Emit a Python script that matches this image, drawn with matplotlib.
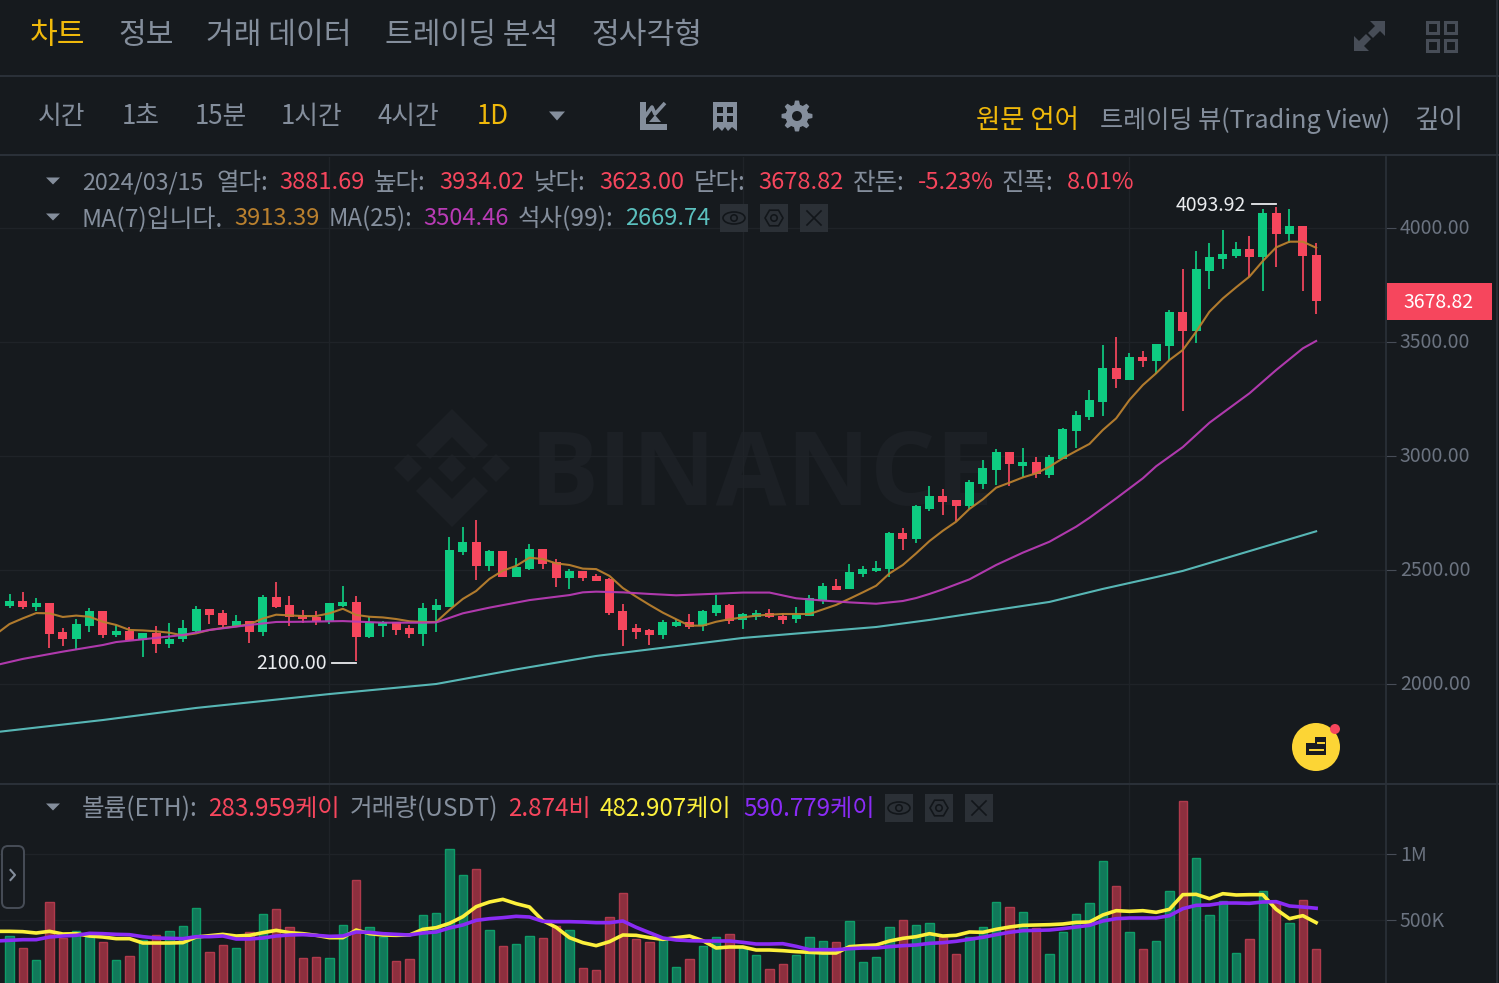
import matplotlib
matplotlib.use("Agg")
import matplotlib.pyplot as plt
from matplotlib.patches import Polygon, Rectangle, Circle, FancyBboxPatch, Ellipse
from matplotlib.transforms import ScaledTranslation
import numpy as np

plt.rcParams['font.family'] = ['Noto Sans CJK KR', 'DejaVu Sans']

# ---------- data ----------
opens = [2344,2363,2336,2357,2230,2199,2256,2320,2215,2234,2193,2224,2174,2199,2234,2330,2311,2256,2275,2227,
         2382,2348,2301,2295,2276,2342,2360,2206,2256,2270,2246,2218,2326,2339,2580,2621,2519,2582,2468,2504,
         2591,2534,2466,2496,2475,2461,2319,2246,2238,2216,2256,2270,2256,2313,2345,2281,2295,2311,2300,2287,
         2298,2366,2428,2415,2482,2494,2503,2664,2636,2769,2826,2805,2782,2877,2940,3017,2958,2974,2918,2988,
         3108,3171,3238,3386,3335,3436,3415,3484,3632,3550,3813,3864,3879,3908,3873,4067,3975,4009,3881.69]
highs = [2393,2404,2377,2357,2244,2284,2332,2320,2259,2249,2224,2253,2266,2279,2342,2330,2325,2304,2275,2392,
         2446,2385,2323,2320,2355,2430,2385,2292,2275,2270,2257,2357,2371,2643,2687,2718,2588,2582,2553,2614,
         2591,2550,2503,2496,2481,2463,2351,2263,2243,2281,2284,2307,2323,2390,2349,2310,2323,2329,2310,2336,
         2392,2443,2462,2525,2516,2538,2665,2684,2784,2867,2857,2805,2893,2982,3032,3017,3035,2994,3006,3121,
         3196,3288,3487,3520,3450,3459,3491,3640,3820,3899,3933,3991,3940,3963,4083,4093.92,4082,4009,3934.02]
lows = [2335,2327,2320,2156,2167,2149,2230,2200,2208,2190,2117,2137,2156,2183,2230,2265,2251,2256,2178,2211,
        2335,2256,2269,2259,2265,2339,2100,2202,2206,2215,2203,2167,2227,2339,2566,2458,2497,2468,2468,2500,
        2506,2427,2415,2453,2452,2304,2168,2196,2173,2196,2252,2240,2234,2297,2265,2240,2282,2291,2265,2269,
        2297,2352,2411,2415,2471,2493,2471,2589,2617,2759,2740,2716,2768,2855,2873,2867,2909,2905,2905,2987,
        3035,3159,3175,3300,3335,3389,3358,3418,3199,3497,3734,3819,3868,3787,3722,3827,3933,3722,3623.00]
closes = [2364,2336,2357,2221,2199,2263,2320,2216,2234,2193,2224,2174,2197,2244,2329,2304,2257,2275,2227,2382,
          2338,2295,2287,2276,2355,2360,2206,2270,2270,2237,2218,2335,2347,2588,2621,2519,2582,2468,2515,2591,
          2526,2466,2496,2466,2453,2310,2238,2230,2216,2272,2273,2252,2322,2345,2278,2307,2311,2292,2282,2304,
          2376,2428,2412,2490,2503,2510,2664,2636,2779,2826,2797,2782,2884,2947,3017,2963,2974,2920,2996,3117,
          3178,3246,3386,3336,3436,3417,3491,3632,3550,3820,3871,3886,3908,3873,4067,3975,4007,3877,3678.82]

ma7 = [2219,2263,2288,2311,2310,2294,2300,2295,2273,2259,2237,2235,2231,2225,2213,2222,2237,2246,2253,2262,2287,
       2304,2301,2298,2298,2310,2330,2303,2295,2292,2285,2275,2272,2272,2325,2373,2408,2461,2497,2518,2554,2548,
       2529,2522,2506,2504,2474,2421,2383,2347,2313,2284,2256,2256,2273,2284,2292,2300,2304,2307,2307,2307,2327,
       2347,2374,2402,2431,2485,2522,2573,2627,2672,2712,2768,2810,2861,2883,2906,2924,2953,2990,3022,3053,3114,
       3165,3246,3311,3363,3421,3465,3545,3633,3691,3740,3787,3855,3915,3940,3940,3913.39]
ma25_idx = [-1,1,4,7,8,10,13,15,18,20,22,25,28,31,32,34,36,39,42,43,44,46,48,50,53,55,57,59,61,63,65,67,68,69,70,72,
            74,76,78,80,81,83,85,86,88,90,93,95,97,98]
ma25 = [2083,2110,2142,2171,2184,2196,2215,2237,2259,2272,2273,2276,2269,2269,2270,2310,2335,2368,2390,2402,2405,
        2402,2395,2389,2396,2401,2401,2376,2366,2358,2352,2364,2377,2395,2415,2459,2522,2576,2624,2690,2729,2814,
        2902,2955,3039,3146,3275,3377,3472,3504.46]
ma99_idx = [-1,7,14,24,32,38,44,55,65,69,78,82,86,88,98]
ma99 = [1789,1842,1895,1956,2000,2064,2123,2202,2250,2281,2360,2417,2469,2496,2669.74]

volumes = [382.5,290,202.5,640,365,420,377.5,335,202.5,230,352.5,387.5,417.5,455,592.5,260,312.5,290,410,545,
           582.5,452.5,215,225,220,462.5,800,452.5,377.5,197.5,210,540,552.5,1037.5,837.5,887.5,425,310,320,385,
           370,460,427.5,140,125,527.5,702.5,362.5,335,357.5,147.5,212.5,310,375,400,302.5,240,135,175,237.5,
           372.5,345,340,495,187.5,222.5,450,502.5,465,482.5,377.5,245,377.5,447.5,635,597.5,565,440,247.5,412.5,
           547.5,627.5,947.5,760,412.5,287.5,342.5,717.5,1392.5,967.5,542.5,647.5,257.5,357.5,722.5,640,482.5,650,283.959]
vol_ma_a = [417.5,417.5,415,405,417.5,397.5,400,382.5,375,362.5,362.5,330,330,330,332.5,375,385,395,382.5,387.5,407.5,
            425,407.5,400,387.5,370,370,427.5,400,390,387.5,390,432.5,445,477.5,527.5,602.5,637.5,657.5,625,600,
            497.5,447.5,370,332.5,310,340,390,387.5,370,357.5,370,382.5,347.5,292.5,300,300,277.5,277.5,272.5,265,
            260,255,255,302.5,310,315,345,365,377.5,400,382.5,387.5,412.5,410,432.5,450,462.5,465,467.5,472.5,485,
            487.5,540,572.5,567.5,572.5,560,582.5,692.5,695,662.5,700,690,692.5,692.5,582.5,512.5,535,482.907]
vol_ma_b = [345,350,355,355,375,382.5,387.5,402.5,400,395,392.5,377.5,367.5,365,362.5,377.5,377.5,382.5,360,360,367.5,
            382.5,390,392.5,387.5,380,382.5,412.5,410,400,395,390,405,412.5,442.5,465,500,512.5,520,530,525,
            492.5,490,490,487.5,482.5,482.5,495,447.5,407.5,367.5,352.5,347.5,345,345,345,335,322.5,322.5,325,305,
            280,280,280,287.5,292.5,292.5,302.5,310,315,327.5,332.5,342.5,357.5,372.5,392.5,410,422.5,425,427.5,437.5,
            450,462.5,495,512.5,517.5,517.5,517.5,535,587.5,612.5,615,630,630,627.5,637.5,640,607.5,600,590.779]

month_idx = [24, 55, 84]
price_ticks = [2000, 2500, 3000, 3500, 4000]
vol_ticks = [500, 1000]
vol_tick_labels = ['500K', '1M']

# ---------- style ----------
W, H = 1499, 983
BG = '#161A1E'; GRID = '#1F2328'; LINE = '#2B3139'; GRAY = '#848E9C'; DIM = '#474D57'; TICK = '#6B7380'
RED = '#F6465D'; GREEN = '#0ECB81'; YEL = '#F0B90B'
ORG = '#B9802E'; PUR = '#B83BB5'; TEAL = '#5BC0BE'; VY = '#FCF03C'; VP = '#8A2BF5'
STEP = 13.333; X0 = 9.5

fig = plt.figure(figsize=(W/100, H/100), dpi=100, facecolor=BG)

def px_axes(l, t, r, b, **kw):
    return fig.add_axes([l/W, 1-b/H, (r-l)/W, (b-t)/H], **kw)

# background (watermark)
bg = fig.add_axes([0, 0, 1, 1], zorder=0)
bg.set_xlim(0, W); bg.set_ylim(H, 0); bg.axis('off')
WM = '#1C2025'
cx, cy = 452, 468
top = [(0,-59),(36,-23),(22,-9),(0,-31),(-22,-9),(-36,-23)]
bg.add_patch(Polygon([(cx+a, cy+b) for a, b in top], fc=WM, ec='none'))
bg.add_patch(Polygon([(cx+a, cy-b) for a, b in top], fc=WM, ec='none'))
for dx in (-44, 0, 44):
    bg.add_patch(Polygon([(cx+dx-14, cy), (cx+dx, cy-14), (cx+dx+14, cy), (cx+dx, cy+14)], fc=WM, ec='none'))
bg.text(530, 479, 'BINANCE', color=WM, fontsize=74, fontweight='bold', family='Open Sans', va='center', ha='left')

def style_axis(a, labels_up=2):
    a.yaxis.tick_right()
    a.set_xticks(month_idx); a.set_xticklabels([])
    a.tick_params(axis='x', length=0)
    a.tick_params(axis='y', length=7, color=DIM, labelcolor=TICK, labelsize=14, pad=3)
    a.grid(True, color=GRID, lw=1, zorder=0)
    for s in ('top', 'left', 'bottom'):
        a.spines[s].set_visible(False)
    a.spines['right'].set_color(LINE); a.spines['right'].set_linewidth(1.2)
    off = ScaledTranslation(0, labels_up/100, fig.dpi_scale_trans)
    for lb in a.get_yticklabels():
        lb.set_transform(lb.get_transform() + off)

# main price axes
ax = px_axes(0, 157, 1386, 783, zorder=1)
ax.set_facecolor('none')
ax.set_xlim(-X0/STEP, (1386-X0)/STEP)
ax.set_ylim(2000-99*500/114, 2000+527*500/114)
x = np.arange(len(opens))
o, h, l, c = map(np.array, (opens, highs, lows, closes))
up = c >= o
cols = np.where(up, GREEN, RED)
ax.vlines(x, l, h, colors=cols, lw=1.25, zorder=3)
ax.bar(x, np.abs(c-o), bottom=np.minimum(o, c), width=0.68, color=cols, zorder=3, lw=0)
ax.plot(np.arange(-1, len(ma7)-1), ma7, color=ORG, lw=1.5, zorder=4, alpha=.95)
ax.plot(ma25_idx, ma25, color=PUR, lw=1.5, zorder=4, alpha=.95)
ax.plot(ma99_idx, ma99, color=TEAL, lw=1.5, zorder=4, alpha=.95)
ax.set_yticks(price_ticks)
ax.set_yticklabels([f'{v:.2f}' for v in price_ticks])
style_axis(ax)

# volume axes
av = px_axes(0, 784, 1386, H, zorder=1)
av.set_facecolor('none')
av.set_xlim(ax.get_xlim())
av.set_ylim((987-983)*7.5, (987-784)*7.5)
v = np.array(volumes)
fc = np.where(up, '#11795A', '#8D2F3E')
ec = np.where(up, '#0E9C68', '#B03A4C')
av.bar(x, v, width=0.62, color=fc, edgecolor=ec, lw=1.0, zorder=3)
xv = np.arange(-1, len(vol_ma_a)-1)
av.plot(xv, vol_ma_a, color=VY, lw=2.6, zorder=4)
av.plot(xv, vol_ma_b, color=VP, lw=2.6, zorder=5)
av.set_yticks(vol_ticks); av.set_yticklabels(vol_tick_labels)
style_axis(av, 1)

# overlay for interface furniture
ov = fig.add_axes([0, 0, 1, 1], zorder=2)
ov.set_xlim(0, W); ov.set_ylim(H, 0); ov.axis('off'); ov.patch.set_alpha(0)

def t(px, py, s, color=GRAY, size=17.6, **kw):
    ov.text(px, py+1.8, s, color=color, fontsize=size, va='center', ha=kw.pop('ha', 'left'), **kw)

def num(px, py, s, color, size=17.0):
    t(px, py, s, color, size, fontweight='medium')

def tri(px, py, w=7, hh=7, color='#848E9C'):
    ov.add_patch(Polygon([(px-w, py-hh/2), (px+w, py-hh/2), (px, py+hh/2)], fc=color, ec='none'))

for yy, xx2 in ((76, 1499), (155, 1499), (783.5, 1499)):
    ov.plot([0, xx2], [yy, yy], color=LINE, lw=1.4)
ov.plot([1497.5, 1497.5], [0, H], color=LINE, lw=1.2)

# header tabs
for xp, s, col in [(30, '차트', YEL), (118, '정보', GRAY), (206, '거래 데이터', GRAY), (385, '트레이딩 분석', GRAY), (591, '정사각형', GRAY)]:
    t(xp, 34, s, col, 21.7)
# interval row
for xp, s, col in [(38, '시간', GRAY), (122, '1초', GRAY), (195, '15분', GRAY), (281, '1시간', GRAY), (378, '4시간', GRAY), (477, '1D', YEL)]:
    t(xp, 115, s, col, 18.6)
tri(557, 116, 8, 9)
t(976, 119, '원문 언어', YEL, 19)
t(1100, 119, '트레이딩 뷰(Trading View)', GRAY, 18.1)
t(1414, 119, '깊이', GRAY, 19.2)

# chart-type icon
ic = '#848E9C'
ov.add_patch(Polygon([(640,102),(646,102),(646,124),(667,124),(667,130),(640,130)], fc=ic, ec='none'))
ov.plot([644,652,655,665], [118,107,114,103], color=ic, lw=2.6, solid_capstyle='butt')
ov.add_patch(Polygon([(649,122),(655,115),(661,122)], fc=ic, ec='none'))
# book icon
ov.add_patch(Polygon([(713,102),(737,102),(737,131),(732,127),(728,131),(725,127),(722,131),(718,127),(713,131)], fc=ic, ec='none'))
for ax_, ay in ((717,107),(727,107),(717,116),(727,116)):
    ov.add_patch(Rectangle((ax_, ay), 6, 6, fc=BG, ec='none'))
# gear
gx, gy = 797, 116
ang = np.radians(np.arange(0, 360, 7.5))
rad = np.where(((np.degrees(ang) + 11.25) % 45) < 22.5, 15.5, 11.5)
ov.add_patch(Polygon(np.c_[gx + rad*np.cos(ang), gy + rad*np.sin(ang)], fc=ic, ec='none'))
ov.add_patch(Circle((gx, gy), 5, fc=BG, ec='none'))

# top-right icons
ov.add_patch(Polygon([(1370,21),(1385,21),(1385,36),(1380,31),(1373,38),(1368,33),(1375,26)], fc=DIM, ec='none'))
ov.add_patch(Polygon([(1354,51),(1354,36),(1359,41),(1366,34),(1371,39),(1364,46),(1369,51)], fc=DIM, ec='none'))
for a in (1426, 1444):
    for b in (21, 39):
        ov.add_patch(Rectangle((a+1.2, b+1.2), 10.5, 10.5, fc='none', ec=DIM, lw=2.2))

# legend rows
tri(53, 181); tri(53, 217); tri(53, 807)
t(82, 181, '2024/03/15', GRAY, 16.8)
for xp, s in [(216, '열다:'), (374, '높다:'), (534, '낮다:'), (694, '닫다:'), (853, '잔돈:'), (1002, '진폭:')]:
    t(xp, 181, s)
for xp, s in [(279, '3881.69'), (439, '3934.02'), (599, '3623.00'), (758, '3678.82'), (918, '-5.23%'), (1067, '8.01%')]:
    num(xp, 181, s, RED)
t(82, 217, 'MA(7)입니다.', GRAY, 17.9)
t(329, 217, 'MA(25):', GRAY, 17.3)
t(518, 217, '석사(99):', GRAY, 17.6)
num(234, 217, '3913.39', ORG); num(423, 217, '3504.46', PUR); num(625, 217, '2669.74', TEAL)
t(82, 807, '볼륨(ETH):', GRAY, 17.7)
t(350, 807, '거래량(USDT)', GRAY, 17.7)
num(208, 807, '283.959케이', RED, 17.4)
num(508, 807, '2.874비', RED, 17.4)
num(600, 807, '482.907케이', VY, 17.4)
num(743, 807, '590.779케이', VP, 17.4)

def btn_row(xs, y0):
    box = '#2B3036'; icc = '#12161A'
    for n, bx in enumerate(xs):
        ov.add_patch(Rectangle((bx, y0), 28, 28, fc=box, ec='none'))
        mx, my = bx+14, y0+14
        if n == 0:
            ov.add_patch(Ellipse((mx, my), 22, 12, fc='none', ec=icc, lw=1.2))
            ov.add_patch(Circle((mx, my), 3.2, fc='none', ec=icc, lw=1.2))
        elif n == 1:
            ov.add_patch(Polygon([(mx+9*np.cos(a), my+9*np.sin(a)) for a in np.radians(np.arange(0, 360, 60))], fc='none', ec=icc, lw=1.2))
            ov.add_patch(Circle((mx, my), 3.2, fc='none', ec=icc, lw=1.2))
        else:
            ov.plot([mx-7, mx+7], [my-7, my+7], color=icc, lw=1.2)
            ov.plot([mx-7, mx+7], [my+7, my-7], color=icc, lw=1.2)
btn_row((720, 760, 800), 204)
btn_row((885, 925, 965), 794)

# high / low labels
t(1176, 204, '4093.92', '#EAECEF', 14)
ov.plot([1252, 1276], [204, 204], color='#EAECEF', lw=1.3)
t(256, 662, '2100.00', '#EAECEF', 14)
ov.plot([332, 356], [662.5, 662.5], color='#EAECEF', lw=1.3)

# last price tag
ov.add_patch(Rectangle((1387, 283), 105, 37, fc=RED, ec='none'))
t(1439, 300.5, '3678.82', 'white', 14, ha='center')

# floating button
ov.add_patch(Circle((1316, 747), 24, fc='#FCD535', ec='none'))
ov.add_patch(Circle((1335, 729), 5, fc=RED, ec='none'))
ov.add_patch(Polygon([(1306,743),(1315,743),(1315,737),(1326,737),(1326,755),(1306,755)], fc='#181A20', ec='none'))
ov.plot([1318, 1324], [743, 743], color='#FCD535', lw=1.4)
ov.plot([1310, 1323], [750, 750], color='#FCD535', lw=1.4)

# side handle
ov.add_patch(FancyBboxPatch((2, 846), 22, 62, boxstyle='round,pad=0,rounding_size=6', fc=BG, ec=DIM, lw=1.4))
ov.plot([10.5, 15, 10.5], [870, 875, 880], color=GRAY, lw=1.5)

fig.savefig('out.png', dpi=100, facecolor=BG)
